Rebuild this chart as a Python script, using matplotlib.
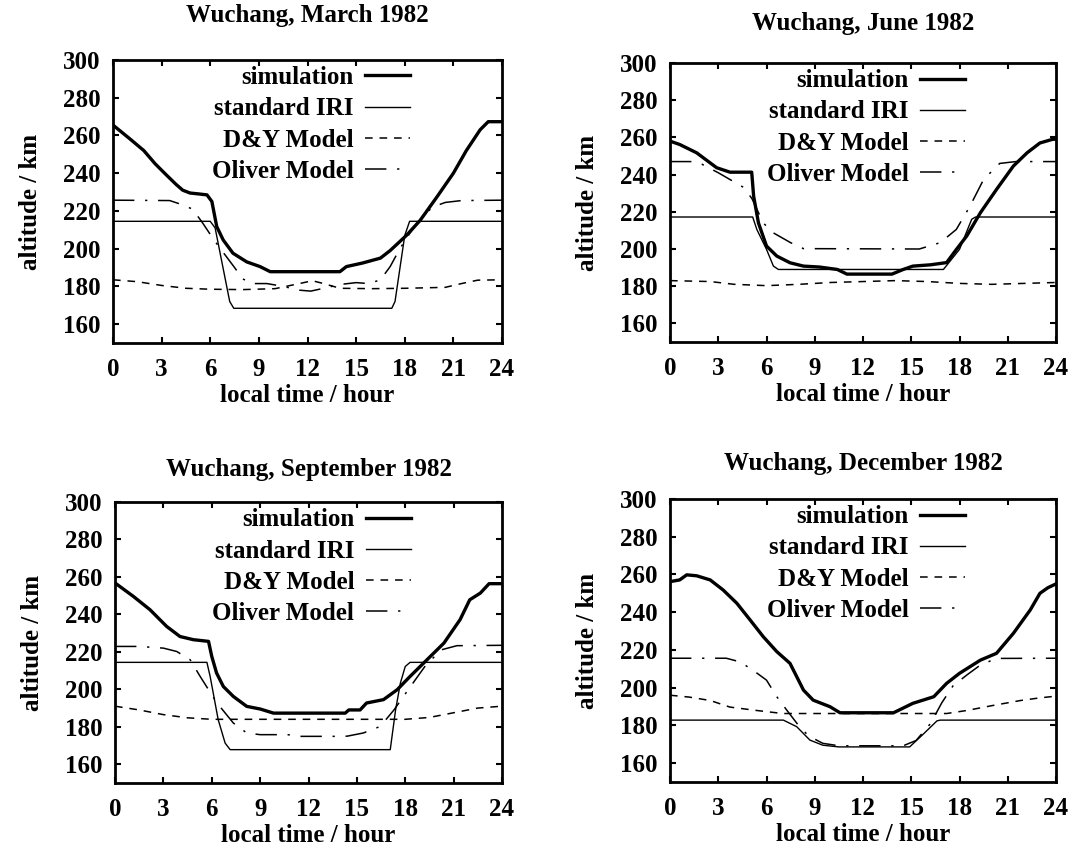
import matplotlib
matplotlib.use("Agg")
import matplotlib.pyplot as plt

plt.rcParams["font.family"] = ["Liberation Serif", "DejaVu Serif"]
plt.rcParams["font.weight"] = "bold"

W, H = 1077, 852
FS = 18

# ---- March 1982 ----
mar_sim_t = [0, 0.5, 1.0, 1.9, 2.6, 3.3, 3.9, 4.3, 4.75, 5.3, 5.8, 6.1, 6.4, 6.8, 7.4, 8.25, 9.07, 9.7,
             14.0, 14.4, 15.4, 16.5, 17.1, 18.1, 18.95, 20.0, 21.0, 21.8, 22.65, 23.15, 24]
mar_sim_h = [265.5, 262, 258.5, 252, 245, 239, 234, 231, 229.5, 229, 228.5, 225, 211.7, 204.6, 197.6, 193, 190.5, 187.8,
             187.8, 190.5, 192.4, 195, 199, 207, 215, 227.6, 240, 252, 263, 267.3, 267.3]
mar_iri_t = [0, 6.0, 6.3, 7.2, 7.45, 17.2, 17.4, 18.0, 18.3, 24]
mar_iri_h = [214.5, 214.5, 211, 172, 168.4, 168.4, 172, 207, 214.5, 214.5]
mar_dy_t = [0, 1.5, 3, 4.5, 6, 8, 10, 11.5, 12.3, 13, 14, 16, 18, 20.5, 21.5, 22.5, 24]
mar_dy_h = [183.5, 182.5, 180.5, 179, 178.5, 178.3, 178.8, 181.5, 183, 181.5, 179, 178.8, 179, 179.5, 181.5, 183.3, 183.5]
mar_ol_t = [0, 3.5, 4.2, 4.9, 5.5, 6.2, 6.8, 7.5, 8.0, 8.6, 9.5, 10.5, 11.5, 12.2, 13, 14, 15, 15.8,
            16.5, 17.1, 17.7, 18.3, 19.0, 19.7, 20.5, 21.5, 24]
mar_ol_h = [225.7, 225.5, 223.5, 221, 214, 205, 198, 190, 184, 181.5, 181.5, 180, 178, 177.5, 179, 181, 182, 181.5,
            183.5, 190.5, 200, 208, 216, 222, 224.5, 225.5, 225.7]

# ---- June 1982 ----
jun_sim_t = [0, 0.6, 1.66, 2.9, 3.73, 5.08, 5.2, 5.5, 6.0, 6.64, 7.46, 8.3, 9.3, 10.4, 11, 13.8, 14.5, 15.1, 16.2,
             17.2, 17.8, 18.45, 19.3, 20.3, 21.35, 22.2, 23.0, 23.8, 24]
jun_sim_h = [258, 256.2, 251.7, 243.7, 241.3, 241.3, 228.4, 214, 201.6, 196.2, 192.6, 190.8, 190.3, 189, 186.5, 186.5, 189, 190.8, 191.5,
             192.7, 199.7, 207, 219.5, 232, 244.6, 251.7, 257, 259, 259]
jun_iri_t = [0, 5.14, 5.4, 6.0, 6.43, 6.74, 17.0, 18.0, 18.76, 19.0, 24]
jun_iri_h = [217.2, 217.2, 210.5, 199.8, 190.8, 189, 189, 199.8, 216, 217.2, 217.2]
jun_dy_t = [0, 2.5, 4, 6, 8, 10, 12, 14, 16, 18, 20, 22, 24]
jun_dy_h = [183, 182.5, 181, 180.3, 181, 182, 182.5, 183, 182.5, 181.5, 181, 181.5, 182]
jun_ol_t = [0, 1.4, 2, 3, 4, 4.6, 5.1, 5.8, 6.4, 7.5, 8.3, 15.5, 16.8, 17.8, 18.65, 19.5, 20.5, 21.5, 24]
jun_ol_h = [247, 247, 245.5, 241, 236, 233, 227, 214, 208.8, 203.4, 200.2, 200, 203.4, 210.5, 223, 237.4, 246, 247, 247]

# ---- September 1982 ----
sep_sim_t = [0, 1.14, 2.17, 3.2, 4.03, 4.86, 5.8, 6.0, 6.3, 6.72, 7.34, 8.17, 9.0, 9.83, 14.28, 14.5, 15.2, 15.6,
             16.65, 17.5, 18.3, 19.35, 20.4, 21.4, 22.0, 22.66, 23.2, 24]
sep_sim_h = [256.8, 249.6, 242.5, 233.6, 228.2, 226.5, 225.6, 217.6, 208.7, 201.5, 196.2, 190.9, 189.5, 187.3, 187.3, 189, 189, 192.7,
             194.5, 199.8, 206.9, 215.8, 224.7, 237.2, 247.8, 251.4, 256.4, 256.4]
sep_iri_t = [0, 5.7, 5.9, 6.4, 6.83, 7.14, 17.07, 17.4, 17.7, 18.0, 18.3, 24]
sep_iri_h = [214.4, 214.4, 206.9, 183.8, 171.3, 167.8, 167.8, 189, 203.4, 212.2, 214.4, 214.4]
sep_dy_t = [0, 1.5, 3, 4.5, 6, 12, 18, 19.5, 21, 22.5, 24]
sep_dy_h = [191, 189, 186.5, 184.8, 184, 184, 184, 185, 187.5, 190, 191]
sep_ol_t = [0, 1.5, 3.0, 3.83, 4.66, 5.28, 6.3, 7.34, 8.17, 9.0, 10.7, 11.5, 13.6, 14.4, 15.4, 16.45, 17.3,
            18.2, 19.2, 20.2, 21.2, 24]
sep_ol_h = [222.9, 222.9, 222, 220.2, 215.8, 206.9, 193, 182, 176.7, 175.8, 175.8, 174.9, 174.9, 175, 176.7, 180.2, 189,
            200, 212, 221, 223.3, 223.5]

# ---- December 1982 ----
dec_sim_t = [0, 0.6, 1.04, 1.66, 2.5, 3.3, 4.15, 4.98, 5.8, 6.64, 7.46, 7.88, 8.3, 8.9, 9.95, 10.57, 13.9, 15.1,
             16.4, 17.2, 18.0, 19.3, 20.3, 21.35, 22.4, 23.0, 23.5, 24]
dec_sim_h = [256.2, 257.1, 259.8, 259.3, 257.1, 251.8, 244.8, 235.9, 227, 219.1, 212.9, 205.8, 198.7, 193.4, 189.9, 186.7, 186.7, 191.7,
             195.2, 202.3, 207.6, 214.6, 218.2, 228.8, 241.2, 250, 253, 255]
dec_iri_t = [0, 7.05, 7.88, 8.7, 9.5, 10.5, 14.9, 15.75, 16.6, 16.8, 24]
dec_iri_h = [182.8, 182.8, 179.3, 172.2, 169.5, 168.6, 168.6, 175.4, 182.4, 182.8, 182.8]
dec_dy_t = [0, 1.2, 2.5, 3.73, 5.4, 7, 12, 17.2, 18.45, 20.1, 21.8, 23, 24]
dec_dy_h = [196, 195, 193.2, 189.7, 187.9, 186.3, 186.3, 186.3, 187.9, 190.6, 193.2, 194.6, 195.5]
dec_ol_t = [0, 3.5, 4.35, 5.2, 6.0, 6.64, 7.25, 7.9, 8.6, 9.5, 10.5, 14.5, 15.3, 16.2, 16.9, 17.6, 18.5, 19.3, 20.3, 24]
dec_ol_h = [215.6, 215.6, 213.7, 209, 204, 195.2, 188.2, 181, 174.5, 170.5, 169.2, 169.2, 172, 181, 192, 201, 207, 212, 215.5, 215.6]

titles = ["Wuchang, March 1982", "Wuchang, June 1982", "Wuchang, September 1982", "Wuchang, December 1982"]
labels = ["simulation", "standard IRI", "D&Y Model", "Oliver Model"]
xticks = [0, 3, 6, 9, 12, 15, 18, 21, 24]
yticks = [160, 180, 200, 220, 240, 260, 280, 300]

panels = [
    (mar_sim_t, mar_sim_h, mar_iri_t, mar_iri_h, mar_dy_t, mar_dy_h, mar_ol_t, mar_ol_h),
    (jun_sim_t, jun_sim_h, jun_iri_t, jun_iri_h, jun_dy_t, jun_dy_h, jun_ol_t, jun_ol_h),
    (sep_sim_t, sep_sim_h, sep_iri_t, sep_iri_h, sep_dy_t, sep_dy_h, sep_ol_t, sep_ol_h),
    (dec_sim_t, dec_sim_h, dec_iri_t, dec_iri_h, dec_dy_t, dec_dy_h, dec_ol_t, dec_ol_h),
]
# axes boxes in pixels: left, top, right, bottom
boxes = [(113, 60, 502, 343), (670, 63, 1056, 342), (115, 502, 502, 783), (670, 499, 1056, 782)]
title_pads = [27, 24, 19, 21]

styles = [
    dict(color="black", lw=2.4, ls="-"),
    dict(color="black", lw=1.0, ls="-"),
    dict(color="black", lw=1.1, ls=(0, (5, 4.5))),
    dict(color="black", lw=1.1, ls=(0, (14, 7, 1.5, 7))),
]

fig = plt.figure(figsize=(W / 100, H / 100), dpi=100)

for i, (data, box) in enumerate(zip(panels, boxes)):
    l, t, r, b = box
    ax = fig.add_axes([l / W, 1 - b / H, (r - l) / W, (b - t) / H])
    for k in range(4):
        ax.plot(data[2 * k], data[2 * k + 1], label=labels[k], **styles[k])
    ax.set_xlim(0, 24)
    ax.set_ylim(150, 300)
    ax.set_xticks(xticks)
    ax.set_yticks(yticks)
    ax.tick_params(direction="in", top=True, right=True, length=4, width=1.5, labelsize=FS)
    ax.tick_params(axis="x", pad=11)
    ax.tick_params(axis="y", pad=9)
    for s in ax.spines.values():
        s.set_linewidth(2)
    ax.set_title(titles[i], fontsize=FS, fontweight="bold", pad=title_pads[i])
    ax.set_xlabel("local time / hour", fontsize=FS, fontweight="bold", labelpad=2)
    ax.set_ylabel("altitude / km", fontsize=FS, fontweight="bold", labelpad=15)
    ax.legend(loc="upper right", bbox_to_anchor=(0.78, 1.0), frameon=False, markerfirst=False,
              prop={"weight": "bold", "size": FS}, borderpad=0.25, borderaxespad=0,
              labelspacing=0.33, handlelength=1.8, handletextpad=0.45)

fig.savefig("out.png", dpi=100)
